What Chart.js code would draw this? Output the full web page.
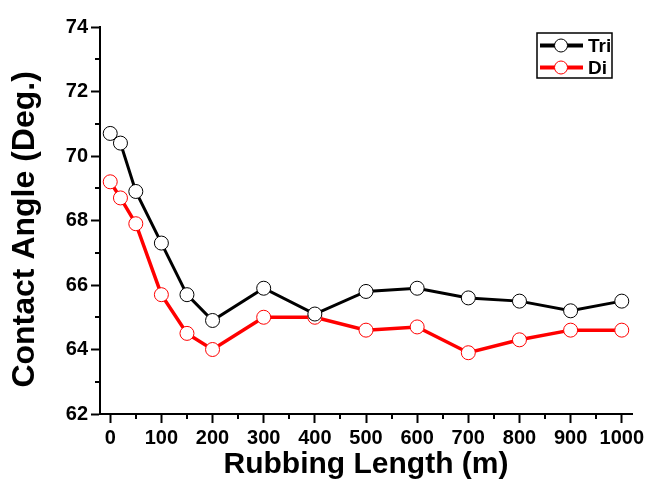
<!DOCTYPE html>
<html>
<head>
<meta charset="utf-8">
<script src="https://cdn.jsdelivr.net/npm/chart.js@4.4.1/dist/chart.umd.min.js"></script>
<style>
  html, body { margin: 0; padding: 0; background: #fff; }
  #wrap { width: 655px; height: 496px; }
</style>
</head>
<body>
<div id="wrap"><canvas id="chart" width="655" height="496"></canvas></div>
<script>
// rubbing length (m)
const rubbingLength = [0, 20, 50, 100, 150, 200, 300, 400, 500, 600, 700, 800, 900, 1000];
const triValues = [70.7, 70.4, 68.9, 67.3, 65.7, 64.9, 65.9, 65.1, 65.8, 65.9, 65.6, 65.5, 65.2, 65.5];
const diValues  = [69.2, 68.7, 67.9, 65.7, 64.5, 64.0, 65.0, 65.0, 64.6, 64.7, 63.9, 64.3, 64.6, 64.6];
const xTicks = [0, 100, 200, 300, 400, 500, 600, 700, 800, 900, 1000];
const xMinorTicks = [50, 150, 250, 350, 450, 550, 650, 750, 850, 950];
const yTicks = [62, 64, 66, 68, 70, 72, 74];
const yMinorTicks = [63, 65, 67, 69, 71, 73];

const FONT = "'Liberation Sans', Arial, sans-serif";

function toPoints(xs, ys) {
  return xs.map((x, i) => ({x: x, y: ys[i]}));
}

// short ticks between the labelled ones
const minorTicks = {
  id: 'minorTicks',
  afterDraw(chart) {
    const ctx = chart.ctx;
    const xs = chart.scales.x, ys = chart.scales.y;
    ctx.save();
    ctx.strokeStyle = '#000';
    ctx.lineWidth = 2;
    ctx.beginPath();
    yMinorTicks.forEach(v => {
      const py = Math.round(ys.getPixelForValue(v));
      ctx.moveTo(ys.right, py);
      ctx.lineTo(ys.right - 5, py);
    });
    xMinorTicks.forEach(v => {
      const px = Math.round(xs.getPixelForValue(v));
      ctx.moveTo(px, xs.top);
      ctx.lineTo(px, xs.top + 5);
    });
    ctx.stroke();
    ctx.restore();
  }
};

// legend box with line + circle samples
const boxLegend = {
  id: 'boxLegend',
  afterDraw(chart) {
    const ctx = chart.ctx;
    const left = 537, top = 33, w = 75, h = 45;
    ctx.save();
    ctx.fillStyle = '#fff';
    ctx.fillRect(left, top, w, h);
    ctx.strokeStyle = '#000';
    ctx.lineWidth = 1.5;
    ctx.strokeRect(left, top, w, h);
    chart.data.datasets.forEach((ds, i) => {
      const cy = top + 12.5 + i * 22;
      ctx.strokeStyle = ds.borderColor;
      ctx.lineWidth = 4;
      ctx.beginPath();
      ctx.moveTo(left + 3, cy);
      ctx.lineTo(left + 46, cy);
      ctx.stroke();
      ctx.beginPath();
      ctx.arc(left + 24, cy, 6.5, 0, Math.PI * 2);
      ctx.fillStyle = '#fff';
      ctx.fill();
      ctx.lineWidth = 1;
      ctx.strokeStyle = ds.pointBorderColor;
      ctx.stroke();
      ctx.fillStyle = '#000';
      ctx.font = 'bold 19px ' + FONT;
      ctx.textBaseline = 'middle';
      ctx.fillText(ds.label, left + 51, cy + 1);
    });
    ctx.restore();
  }
};

new Chart(document.getElementById('chart'), {
  type: 'line',
  data: {
    datasets: [
      {
        label: 'Tri',
        data: toPoints(rubbingLength, triValues),
        borderColor: '#000',
        borderWidth: 3,
        pointRadius: 7,
        pointBorderWidth: 1,
        pointBackgroundColor: '#fff',
        pointBorderColor: '#000',
        tension: 0
      },
      {
        label: 'Di',
        data: toPoints(rubbingLength, diValues),
        borderColor: '#ff0000',
        borderWidth: 3.5,
        pointRadius: 7,
        pointBorderWidth: 1,
        pointBackgroundColor: '#fff',
        pointBorderColor: '#ff0000',
        tension: 0
      }
    ]
  },
  options: {
    responsive: false,
    animation: false,
    layout: { padding: { left: 0, right: 23, top: 27, bottom: 0 } },
    plugins: {
      legend: { display: false },
      tooltip: { enabled: false }
    },
    scales: {
      x: {
        type: 'linear',
        min: -20,
        max: 1020,
        afterBuildTicks: s => { s.ticks = xTicks.map(v => ({value: v})); },
        afterFit: s => { s.height = 82; },
        border: { display: true, color: '#000', width: 2 },
        grid: { drawOnChartArea: false, drawTicks: true, tickLength: 9, tickColor: '#000', tickWidth: 2 },
        ticks: {
          color: '#000', padding: 3, maxRotation: 0,
          font: { family: FONT, size: 20, weight: 'bold' },
          callback: v => String(v)
        },
        title: {
          display: true,
          text: 'Rubbing Length (m)',
          color: '#000',
          padding: { top: 0, bottom: 16 },
          font: { family: FONT, size: 30, weight: 'bold', lineHeight: 1 }
        }
      },
      y: {
        min: 62,
        max: 74,
        afterBuildTicks: s => { s.ticks = yTicks.map(v => ({value: v})); },
        afterFit: s => { s.width = 100; },
        border: { display: true, color: '#000', width: 2 },
        grid: { drawOnChartArea: false, drawTicks: true, tickLength: 9, tickColor: '#000', tickWidth: 2 },
        ticks: { color: '#000', padding: 3, font: { family: FONT, size: 20, weight: 'bold' } },
        title: {
          display: true,
          text: 'Contact Angle (Deg.)\u00a0\u00a0',
          color: '#000',
          padding: { top: 9, bottom: 0 },
          font: { family: FONT, size: 32, weight: 'bold', lineHeight: 1 }
        }
      }
    }
  },
  plugins: [minorTicks, boxLegend]
});
</script>
</body>
</html>
